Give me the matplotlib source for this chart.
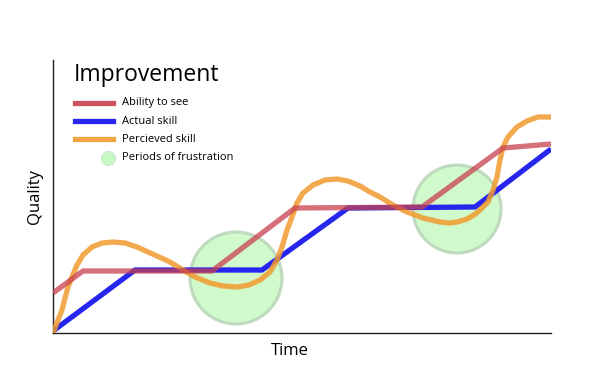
import matplotlib
matplotlib.use("Agg")
import matplotlib.pyplot as plt
from matplotlib.lines import Line2D
from matplotlib.patches import Circle

plt.rcParams['font.family'] = ['Open Sans', 'DejaVu Sans']

# values (arbitrary units, no ticks on the original)
ability_t = [0, 30, 159, 242, 369, 450, 498]
ability_q = [40, 62, 62, 125, 126, 185, 189]

actual_t = [0, 82, 209, 295, 422, 498]
actual_q = [2, 63, 63, 125, 126, 184]

perceived_t = [0, 2, 5, 9, 12, 15, 19, 24, 30, 39, 49, 60, 72, 84, 95,
               104, 117, 130, 142, 157, 170, 184, 196, 207, 217, 224, 229,
               234, 239, 244, 250, 260, 272, 284, 295, 307, 317, 327, 340,
               354, 370, 387, 396, 404, 414, 421, 427, 435, 440, 444, 447,
               450, 455, 464, 474, 485, 498]
perceived_q = [1, 5, 13, 23, 35, 46, 56, 68, 78, 86, 90, 91, 90, 86, 81,
               77, 71, 63, 56, 50, 47, 46, 48, 53, 61, 73, 86,
               103, 116, 130, 140, 148, 153, 154, 152, 147, 141, 136, 128,
               121, 115, 111, 110, 111, 114, 118, 123, 131, 143, 156, 173,
               186, 196, 206, 212, 216, 216]

frustration_t = [183, 404]
frustration_q = [55, 124]
frustration_r = [46, 44]

labels = ["Ability to see", "Actual skill", "Percieved skill", "Periods of frustration"]

RED = "#c8404f"
BLUE = "#2626ee"
ORANGE = "#f29a2e"
GREEN = "#c8f8c4"
GREEN_EDGE = "#b8d4b8"

W, H = 600, 375
fig = plt.figure(figsize=(6, 3.75), dpi=100)
ax = fig.add_axes([53 / W, 42 / H, 498 / W, 273 / H])
ax.set_xlim(0, 498)
ax.set_ylim(0, 273)

for t, q, r in zip(frustration_t, frustration_q, frustration_r):
    ax.add_patch(Circle((t, q), r, facecolor=GREEN, edgecolor=GREEN_EDGE,
                        lw=2.2, alpha=0.85, zorder=1))

lw = 3.8
ax.plot(actual_t, actual_q, color=BLUE, lw=lw, zorder=2, solid_capstyle="butt")
ax.plot(perceived_t, perceived_q, color=ORANGE, lw=lw, alpha=0.85, zorder=3,
        solid_joinstyle="round")
ax.plot(ability_t, ability_q, color=RED, lw=lw, alpha=0.75, zorder=4,
        solid_capstyle="butt")

for s in ["top", "right"]:
    ax.spines[s].set_visible(False)
for s in ["left", "bottom"]:
    ax.spines[s].set_linewidth(1.0)
    ax.spines[s].set_color("#222222")
ax.set_xticks([])
ax.set_yticks([])

fig.text(290 / W, 1 - 351 / H, "Time", fontsize=12, ha="center", va="center")
fig.text(35 / W, 1 - 197 / H, "Quality", fontsize=12, rotation=90,
         ha="center", va="center")

# legend drawn by hand
fig.text(74 / W, 1 - 75 / H, "Improvement", fontsize=16.5, ha="left", va="center")
rows = [103, 121, 139, 158]
for (c, a), y, lab in zip([(RED, 0.9), (BLUE, 1.0), (ORANGE, 0.9)], rows, labels):
    fig.add_artist(Line2D([75 / W, 113 / W], [1 - y / H, 1 - y / H], color=c,
                          lw=lw, alpha=a, transform=fig.transFigure))
    fig.text(122 / W, 1 - y / H, lab, fontsize=8, ha="left", va="center")
fig.add_artist(Line2D([108 / W], [1 - rows[3] / H], marker="o", markersize=10,
                      markerfacecolor=GREEN, markeredgecolor="#d0e8d0",
                      transform=fig.transFigure))
fig.text(122 / W, 1 - rows[3] / H, labels[3], fontsize=8, ha="left", va="center")

fig.savefig("out.png", dpi=100)
